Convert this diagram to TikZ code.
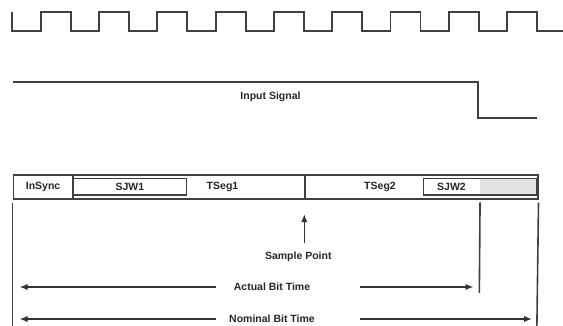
\documentclass[tikz,border=0pt]{standalone}
\usepackage{fontspec}
\setmainfont{Liberation Sans}
\usetikzlibrary{arrows.meta,positioning}

\begin{document}
\begin{tikzpicture}[
    x=1pt, y=-1pt,
    font=\fontsize{10.5}{12}\selectfont\bfseries,
    every node/.style={text=black!85},
    waveLine/.style={draw=black!75, line width=1.8pt},
    segBox/.style={
        rectangle, draw=black!75, line width=1.6pt, anchor=north west,
        minimum height=24pt, inner sep=0pt
    },
    sjwBox/.style={
        rectangle, draw=black!75, line width=1.4pt, anchor=north west,
        minimum height=16.5pt, inner sep=0pt
    },
    markLine/.style={draw=black!75, line width=1.6pt},
    dimArrow/.style={
        -{Latex[length=8pt, width=6.5pt]}, line width=1.6pt, draw=black!80
    }
]
\useasboundingbox (0,0) rectangle (563,326);

% Clock
\draw[waveLine] (12.3,11.7) -- (12.3,30.7)
    foreach \k in {0,...,8} {
        -- ({40.7+58.3*\k},30.7) -- ({40.7+58.3*\k},11.7)
        -- ({70.7+58.3*\k},11.7) -- ({70.7+58.3*\k},30.7)
    } -- (563,30.7);

% Input signal
\draw[waveLine] (12.5,82.3) -- (478.3,82.3) -- (478.3,118.3) -- (536.7,118.3);
\node (inputLbl) at (270.5,96.5) {Input Signal};

% Bit time segments
\node[segBox, minimum width=59.5pt] (inSync) at (12.5,174.5) {InSync};
\node[segBox, minimum width=232.3pt] (tSeg1) at (72,174.5) {};
\node[segBox, minimum width=232.6pt] (tSeg2) at (304.3,174.5) {};

\node[sjwBox, minimum width=113pt] (sjw1) at (72.7,178) {SJW1};
\node[sjwBox, minimum width=113.3pt,
    path picture={\fill[gray!22] (path picture bounding box.south)
        rectangle (path picture bounding box.north east);}] (sjw2) at (422.7,178) {};

\node (tSeg1Lbl) at (222.5,187) {TSeg1};
\node (tSeg2Lbl) at (380,187) {TSeg2};
\node (sjw2Lbl) at (451.5,186.5) {SJW2};

% Markers below the bar
\coordinate (leftEnd) at (12.5,326);
\coordinate (rightEnd) at (536.9,326);
\coordinate (actualEnd) at (479.35,293);
\draw[markLine] ([yshift=-2.5pt]inSync.south west) -- (leftEnd);
\draw[markLine] ([yshift=-2.5pt]tSeg2.south east) -- (rightEnd);
\draw[markLine] ([yshift=-6.5pt]sjw2.south) -- (actualEnd);

% Sample point
\node (sampleLbl) at (298.3,256.7) {Sample Point};
\draw[dimArrow] ([yshift=5.5pt]sampleLbl.north -| tSeg2.south west) -- ([yshift=-14pt]tSeg2.south west);

% Bit times
\node (actualLbl) at (272,287) {Actual Bit Time};
\node (nominalLbl) at (272,319) {Nominal Bit Time};

\coordinate (actualTailL) at (215.5,287);
\coordinate (actualTipL) at (19.5,287);
\coordinate (actualTailR) at (360,287);
\coordinate (actualTipR) at (473.5,287);
\coordinate (nominalTailL) at (215.5,319);
\coordinate (nominalTipL) at (19.5,319);
\coordinate (nominalTailR) at (360,319);
\coordinate (nominalTipR) at (532,319);

\draw[dimArrow] (actualTailL) -- (actualTipL);
\draw[dimArrow] (actualTailR) -- (actualTipR);
\draw[dimArrow] (nominalTailL) -- (nominalTipL);
\draw[dimArrow] (nominalTailR) -- (nominalTipR);

\end{tikzpicture}
\end{document}
